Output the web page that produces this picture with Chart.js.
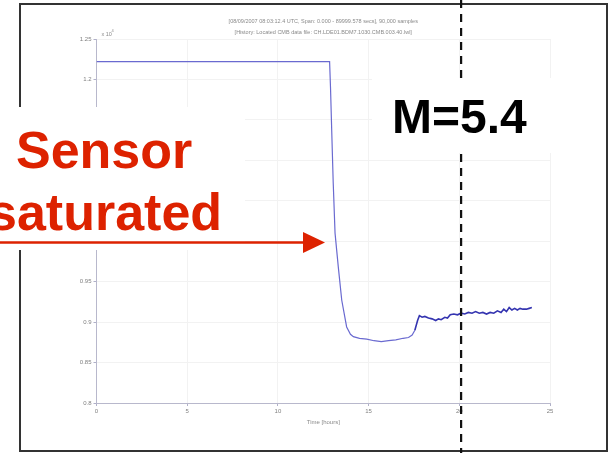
<!DOCTYPE html>
<html>
<head>
<meta charset="utf-8">
<script src="https://cdn.jsdelivr.net/npm/chart.js@4.4.1/dist/chart.umd.min.js"></script>
<style>
  html, body { margin: 0; padding: 0; background: #ffffff; }
  #wrap { width: 612px; height: 453px; position: relative; }
</style>
</head>
<body>
<div id="wrap"><canvas id="chart_1" width="612" height="453"></canvas></div>
<script>
// time in hours, sensor output (x 10^4)
const hours = [0, 12.85, 12.9, 12.97, 13.05, 13.15, 13.33, 13.52, 13.79, 14.0, 14.16, 14.5, 14.9, 15.3,
  15.7, 16.1, 16.5, 16.9, 17.2, 17.4, 17.55, 17.7, 17.8, 17.95, 18.1, 18.3, 18.5, 18.7, 18.85, 19.0,
  19.2, 19.35, 19.5, 19.7, 19.9, 20.1, 20.3, 20.5, 20.7, 20.9, 21.1, 21.3, 21.5, 21.7, 21.9, 22.1,
  22.3, 22.45, 22.6, 22.75, 22.9, 23.05, 23.2, 23.35, 23.5, 23.7, 23.85, 24.0];
const counts = [1.222, 1.222, 1.19, 1.134, 1.072, 1.010, 0.968, 0.927, 0.894, 0.885, 0.882, 0.880, 0.879, 0.877,
  0.876, 0.877, 0.878, 0.880, 0.881, 0.884, 0.890, 0.902, 0.908, 0.906, 0.907, 0.905, 0.904, 0.902, 0.904, 0.903,
  0.906, 0.905, 0.909, 0.910, 0.909, 0.911, 0.910, 0.912, 0.911, 0.913, 0.911, 0.912, 0.910, 0.912, 0.911, 0.914,
  0.912, 0.916, 0.913, 0.918, 0.915, 0.917, 0.915, 0.917, 0.916, 0.916, 0.917, 0.918];
const xTicks = [0, 5, 10, 15, 20, 25];
const yTicks = [0.8, 0.85, 0.9, 0.95, 1, 1.05, 1.1, 1.15, 1.2, 1.25];
const titleLines = [
  "[08/09/2007 08:03:12.4 UTC, Span: 0.000 - 89999.578 secs], 90,000 samples",
  "[History: Located CMB data file: CH.LDE01.BDM7.1030.CMB.003.40.lwl]"
];
const markerHour = 20.1; // dashed line
const markerLabel = "M=5.4";
const noteLines = ["Sensor", "saturated"];

const points = hours.map((h, i) => ({ x: h, y: counts[i] }));

const overlay = {
  id: "overlay",
  beforeDraw(chart) {
    const c = chart.ctx;
    c.save();
    c.fillStyle = "#ffffff";
    c.fillRect(0, 0, chart.width, chart.height);
    c.restore();
  },
  afterDraw(chart) {
    const c = chart.ctx;
    const xs = chart.scales.x;
    const area = chart.chartArea;
    c.save();

    // figure frame
    c.strokeStyle = "#333333";
    c.lineWidth = 2;
    c.strokeRect(20, 4, 587, 447);

    // title
    c.fillStyle = "#8a8a8a";
    c.font = "5.5px 'Liberation Sans', Arial, sans-serif";
    c.textAlign = "center";
    c.textBaseline = "middle";
    const cx = (area.left + area.right) / 2;
    c.fillText(titleLines[0], cx, 21);
    c.fillText(titleLines[1], cx, 32);

    // exponent
    c.textAlign = "left";
    c.fillText("x 10", area.left + 5, 34);
    c.font = "4px 'Liberation Sans', Arial, sans-serif";
    c.fillText("4", area.left + 15, 31);

    // axis title
    c.font = "6px 'Liberation Sans', Arial, sans-serif";
    c.textAlign = "center";
    c.fillText("Time [hours]", cx, 422);

    // dashed marker
    const mx = xs.getPixelForValue(markerHour);
    c.strokeStyle = "#111111";
    c.lineWidth = 2.2;
    c.setLineDash([8, 6]);
    c.beginPath();
    c.moveTo(mx, 0);
    c.lineTo(mx, chart.height);
    c.stroke();
    c.setLineDash([]);

    // M label box
    c.fillStyle = "#ffffff";
    c.fillRect(372, 78, 188, 75);
    c.fillStyle = "#000000";
    c.font = "bold 48px 'Liberation Sans', Arial, sans-serif";
    c.textAlign = "left";
    c.textBaseline = "alphabetic";
    c.fillText(markerLabel, 392, 133);

    // saturated note
    c.fillStyle = "#ffffff";
    c.fillRect(0, 107, 245, 143);
    c.fillStyle = "#dd2200";
    c.font = "bold 52px 'Liberation Sans', Arial, sans-serif";
    c.fillText(noteLines[0], 16, 168);
    c.fillText(noteLines[1], -12, 230);

    // arrow
    c.strokeStyle = "#dd2200";
    c.lineWidth = 2.5;
    c.beginPath();
    c.moveTo(0, 242.5);
    c.lineTo(305, 242.5);
    c.stroke();
    c.beginPath();
    c.moveTo(325, 242.5);
    c.lineTo(303, 232);
    c.lineTo(303, 253);
    c.closePath();
    c.fill();
    c.restore();
  }
};

const ctx = document.getElementById("chart_1").getContext("2d");
window.myChart = new Chart(ctx, {
  type: "line",
  data: {
    datasets: [
      {
        label: "Sensor",
        data: points,
        borderColor: "#6a6ad0",
        backgroundColor: "#6a6ad0",
        borderWidth: 1.2,
        pointRadius: 0,
        tension: 0,
        segment: {
          borderColor: (s) => (s.p0.parsed.x >= 17.5 ? "#3434b0" : "#6a6ad0"),
          borderWidth: (s) => (s.p0.parsed.x >= 17.5 ? 1.6 : 1.2),
        },
      },
    ],
  },
  options: {
    responsive: false,
    animation: false,
    layout: { padding: { left: 0, right: 62, top: 39, bottom: 0 } },
    scales: {
      x: {
        type: "linear",
        min: 0,
        max: 25,
        afterBuildTicks: (scale) => { scale.ticks = xTicks.map((v) => ({ value: v })); },
        afterFit: (scale) => { scale.height = 50; },
        grid: { color: "#f2f2f2", drawTicks: true, tickLength: 3, tickColor: "#b0b0c8" },
        border: { display: true, color: "#b8b8cc", width: 1 },
        ticks: {
          color: "#808080",
          font: { size: 6, family: "'Liberation Sans', Arial, sans-serif" },
          padding: 2,
          maxRotation: 0,
        },
      },
      y: {
        type: "linear",
        min: 0.8,
        max: 1.25,
        afterBuildTicks: (scale) => { scale.ticks = yTicks.map((v) => ({ value: v })); },
        afterFit: (scale) => { scale.width = 96.5; },
        grid: { color: "#f2f2f2", drawTicks: true, tickLength: 3, tickColor: "#b0b0c8" },
        border: { display: true, color: "#b8b8cc", width: 1 },
        ticks: {
          color: "#808080",
          font: { size: 6, family: "'Liberation Sans', Arial, sans-serif" },
          padding: 2,
          callback: (v) => String(v),
        },
      },
    },
    plugins: {
      legend: { display: false },
      title: { display: false },
      tooltip: { enabled: false },
    },
  },
  plugins: [overlay],
});
</script>
</body>
</html>
